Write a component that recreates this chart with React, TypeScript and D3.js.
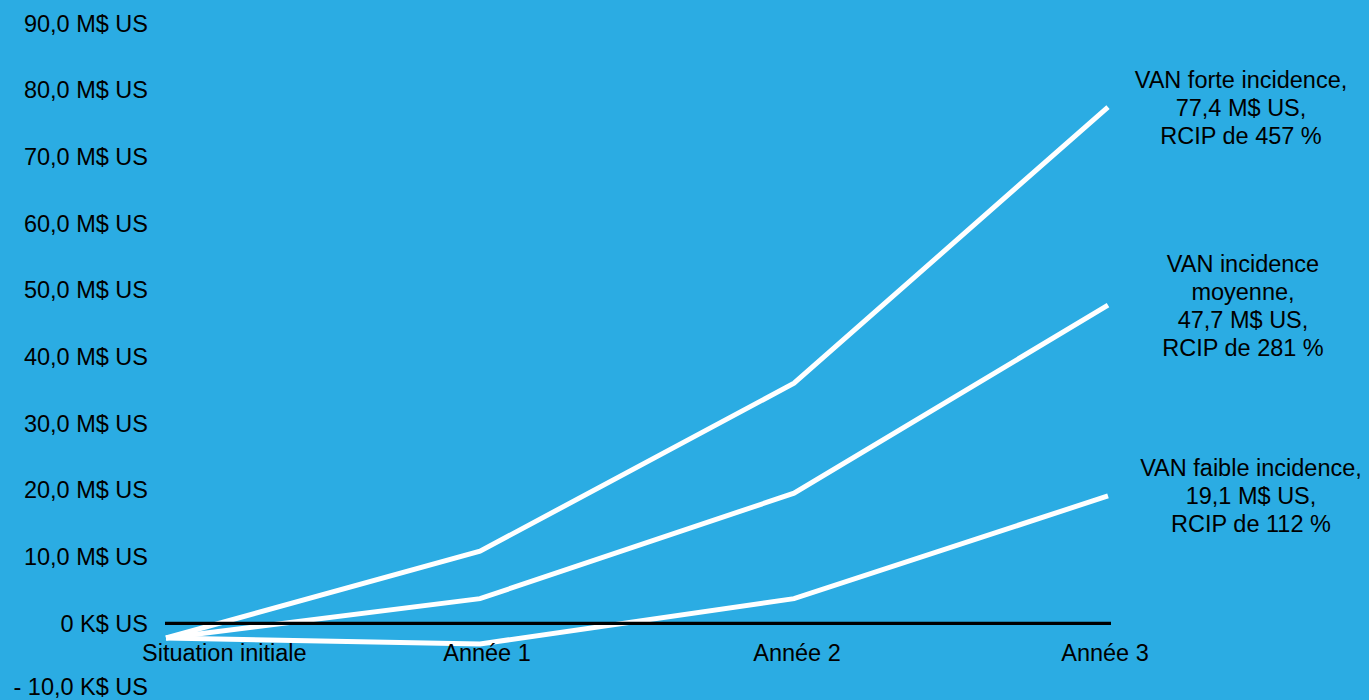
import React from "react";
import * as d3 from "d3";

const categories = ["Situation initiale", "Année 1", "Année 2", "Année 3"];
const forte = [-2.2, 10.8, 36.0, 77.4];
const moyenne = [-2.2, 3.7, 19.5, 47.7];
const faible = [-2.2, -3.1, 3.7, 19.1];
const yTicks = [-10, 0, 10, 20, 30, 40, 50, 60, 70, 80, 90];
const yTickLabels = [
  "- 10,0 K$ US", "0 K$ US", "10,0 M$ US", "20,0 M$ US", "30,0 M$ US", "40,0 M$ US",
  "50,0 M$ US", "60,0 M$ US", "70,0 M$ US", "80,0 M$ US", "90,0 M$ US",
];
const seriesLabels = [
  ["VAN forte incidence,", "77,4 M$ US,", "RCIP de 457 %"],
  ["VAN incidence", "moyenne,", "47,7 M$ US,", "RCIP de 281 %"],
  ["VAN faible incidence,", "19,1 M$ US,", "RCIP de 112 %"],
];
const seriesList = [forte, moyenne, faible];
const labelDx = [133, 135, 143];
const catDx = [0, 7, 3, -3];

const W = 1369;
const H = 700;
const FONT = "'Liberation Sans', Arial, sans-serif";
const FS = 23.5;

export default function App() {
  const x = d3.scalePoint<string>().domain(categories).range([166, 1108]);
  const y = d3.scaleLinear().domain([-10, 90]).range([690, 23]);
  const line = d3
    .line<number>()
    .x((_, i) => x(categories[i]) as number)
    .y((d) => y(d));
  const lastX = x(categories[categories.length - 1]) as number;

  return (
    <svg
      width={W}
      height={H}
      style={{ position: "absolute", left: 0, top: 0, display: "block" }}
      fontFamily={FONT}
      fontSize={FS}
    >
      <rect x={0} y={0} width={W} height={H} fill="#2BACE3" />
      {yTicks.map((t, i) => (
        <text key={t} x={148} y={Math.min(y(t) + 8.5, 695)} textAnchor="end" fill="#000">
          {yTickLabels[i]}
        </text>
      ))}
      {seriesList.map((s, i) => (
        <path
          key={i}
          d={line(s) || ""}
          fill="none"
          stroke="#fff"
          strokeWidth={5}
          strokeLinejoin="miter"
        />
      ))}
      <line
        x1={165}
        x2={1111}
        y1={y(0)}
        y2={y(0)}
        stroke="#000"
        strokeWidth={3.3}
      />
      {categories.map((c, i) => {
        const px = x(c) as number;
        return i === 0 ? (
          <text key={c} x={px - 24} y={661} textAnchor="start" fill="#000">
            {c}
          </text>
        ) : (
          <text key={c} x={px + catDx[i]} y={661} textAnchor="middle" fill="#000">
            {c}
          </text>
        );
      })}
      {seriesList.map((s, i) => {
        const lines = seriesLabels[i];
        const cy = y(s[s.length - 1]);
        const n = lines.length;
        return (
          <text key={i} textAnchor="middle" fill="#000">
            {lines.map((l, j) => (
              <tspan key={j} x={lastX + labelDx[i]} y={cy + (j - (n - 1) / 2) * 28 + 8.5}>
                {l}
              </tspan>
            ))}
          </text>
        );
      })}
    </svg>
  );
}
